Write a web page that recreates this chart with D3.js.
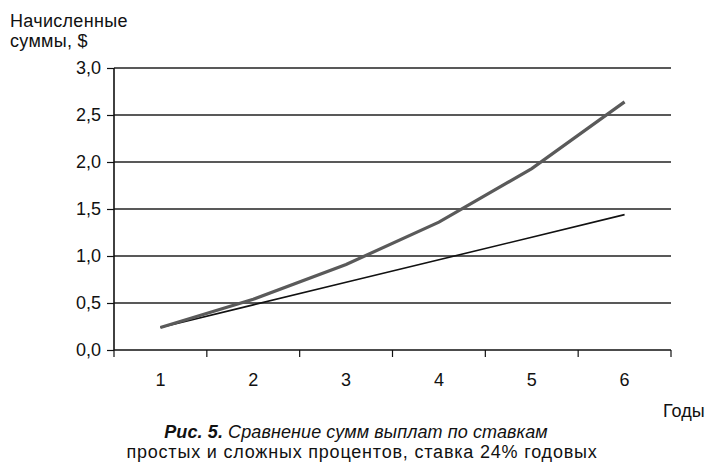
<!DOCTYPE html>
<html><head><meta charset="utf-8">
<script src="https://cdn.jsdelivr.net/npm/d3@7/dist/d3.min.js"></script>
<style>body{margin:0;background:#fff}svg{display:block}text{font-family:"Liberation Sans",Arial,sans-serif;fill:#111}</style>
</head><body>
<svg id="c" width="716" height="472"></svg>
<script>
const years = ["1","2","3","4","5","6"];
const simple = [0.24,0.48,0.72,0.96,1.20,1.44];
const compound = [0.24,0.54,0.91,1.36,1.93,2.64];
const yTicks = [0,0.5,1.0,1.5,2.0,2.5,3.0];

const svg = d3.select("#c");
const x = d3.scaleBand().domain(years).range([114,671]);
const y = d3.scaleLinear().domain([0,3]).range([350,68]);
const fmt = v => d3.format(".1f")(v).replace(".",",");
const FONT = "Liberation Sans, Arial, sans-serif";

// gridlines
svg.append("g").selectAll("line").data(yTicks.filter(d=>d>0)).join("line")
  .attr("x1",114).attr("x2",671).attr("y1",d=>y(d)).attr("y2",d=>y(d))
  .attr("stroke","#222").attr("stroke-width",1.3);

// y axis
const ya = svg.append("g").attr("transform","translate(114,0)")
  .call(d3.axisLeft(y).tickValues(yTicks).tickFormat(fmt).tickSize(7).tickPadding(6));
ya.select(".domain").attr("stroke","#111").attr("stroke-width",1.6).attr("d","M0,68V350");
ya.selectAll(".tick line").attr("stroke","#111").attr("stroke-width",1.2);
ya.selectAll(".tick text").attr("font-size",18).attr("fill","#111").attr("font-family",FONT);

// x axis
const xa = svg.append("g").attr("transform","translate(0,350)")
  .call(d3.axisBottom(x).tickSize(0).tickPadding(23));
xa.select(".domain").attr("stroke","#111").attr("stroke-width",1.4).attr("d","M114,0H671");
xa.selectAll(".tick text").attr("font-size",18).attr("fill","#111").attr("font-family",FONT);
// category boundary ticks
const bounds = years.map(d=>x(d)).concat([x(years[years.length-1])+x.bandwidth()]);
xa.append("g").selectAll("line").data(bounds).join("line")
  .attr("x1",d=>d).attr("x2",d=>d).attr("y1",0).attr("y2",7)
  .attr("stroke","#111").attr("stroke-width",1.2);

const line = d3.line().x((d,i)=>x(years[i])+x.bandwidth()/2).y(d=>y(d));
svg.append("path").datum(simple).attr("d",line).attr("fill","none")
  .attr("stroke","#111").attr("stroke-width",1.6);
svg.append("path").datum(compound).attr("d",line).attr("fill","none")
  .attr("stroke","#5a5a5a").attr("stroke-width",3.2);

// labels
svg.append("text").attr("x",10).attr("y",27).attr("font-size",18).attr("letter-spacing",0.3).text("Начисленные");
svg.append("text").attr("x",10).attr("y",47).attr("font-size",18).attr("letter-spacing",0.3).text("суммы, $");
svg.append("text").attr("x",663).attr("y",417).attr("font-size",18).text("Годы");

const cap1 = svg.append("text").attr("x",356).attr("y",438).attr("font-size",18)
  .attr("text-anchor","middle").attr("letter-spacing",0.1);
cap1.append("tspan").attr("font-weight","bold").attr("font-style","italic").text("Рис. 5.");
cap1.append("tspan").attr("font-style","italic").text(" Сравнение сумм выплат по ставкам");
svg.append("text").attr("x",362).attr("y",458).attr("font-size",18).attr("text-anchor","middle")
  .attr("letter-spacing",0.8).text("простых и сложных процентов, ставка 24% годовых");
</script>
</body></html>
